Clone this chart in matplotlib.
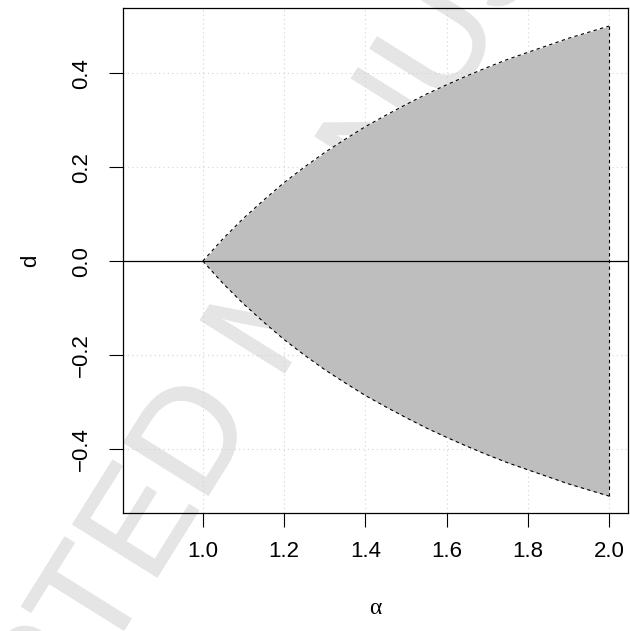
import matplotlib.pyplot as plt
import matplotlib.patheffects as pe

plt.rcParams['font.family'] = ['Liberation Sans', 'DejaVu Sans']

# region boundary
alpha = [1.00, 1.05, 1.10, 1.15, 1.20, 1.25, 1.30, 1.35, 1.40, 1.45, 1.50,
         1.55, 1.60, 1.65, 1.70, 1.75, 1.80, 1.85, 1.90, 1.95, 2.00]
d_upper = [0.000, 0.048, 0.091, 0.130, 0.167, 0.200, 0.231, 0.259, 0.286, 0.310, 0.333,
           0.355, 0.375, 0.394, 0.412, 0.429, 0.444, 0.459, 0.474, 0.487, 0.500]
d_lower = [-0.000, -0.048, -0.091, -0.130, -0.167, -0.200, -0.231, -0.259, -0.286, -0.310, -0.333,
           -0.355, -0.375, -0.394, -0.412, -0.429, -0.444, -0.459, -0.474, -0.487, -0.500]
x_ticks = [1.0, 1.2, 1.4, 1.6, 1.8, 2.0]
y_ticks = [-0.4, -0.2, 0.0, 0.2, 0.4]

fig = plt.figure(figsize=(6.3, 6.31), dpi=100)
ax = fig.add_axes([0.195, 0.187, 0.802, 0.800])
ax.patch.set_alpha(0)

# faint watermark behind the plot
fig.text(0.446, 0.512, 'ACCEPTED MANUSCRIPT', fontsize=104, color='#e5e5e5',
         rotation=58, ha='center', va='center', zorder=-5,
         path_effects=[pe.withStroke(linewidth=1, foreground='#e5e5e5')])

for x in x_ticks:
    ax.axvline(x, color='#d3d3d3', lw=0.8, ls=(0, (1, 3)), zorder=1)
for y in y_ticks:
    ax.axhline(y, color='#d3d3d3', lw=0.8, ls=(0, (1, 3)), zorder=1)

ax.fill_between(alpha, d_lower, d_upper, color='#bebebe', lw=0, zorder=2)
ax.plot(alpha, d_upper, color='black', lw=0.8, ls=(0, (3, 3)), zorder=3)
ax.plot(alpha, d_lower, color='black', lw=0.8, ls=(0, (3, 3)), zorder=3)
ax.plot([alpha[-1], alpha[-1]], [d_lower[-1], d_upper[-1]], color='black',
        lw=0.8, ls=(0, (3, 3)), zorder=3)
ax.axhline(0, color='black', lw=0.9, zorder=4)

ax.set_xlim(0.803, 2.047)
ax.set_ylim(-0.536, 0.538)
ax.set_xticks(x_ticks)
ax.set_xticklabels([f'{v:.1f}' for v in x_ticks])
ax.set_yticks(y_ticks)
ax.set_yticklabels([f'{v:.1f}'.replace('-', '\u2212') for v in y_ticks],
                   rotation=90, va='center')
ax.tick_params(length=10, width=0.8, labelsize=16, pad=10, direction='out')
ax.tick_params(axis='y', pad=12)

ax.set_xlabel('\u03b1', fontsize=17, family='Liberation Serif', labelpad=26)
ax.set_ylabel('d', fontsize=16, labelpad=22)
for s in ax.spines.values():
    s.set_linewidth(0.9)

fig.savefig('out.png', dpi=100)
